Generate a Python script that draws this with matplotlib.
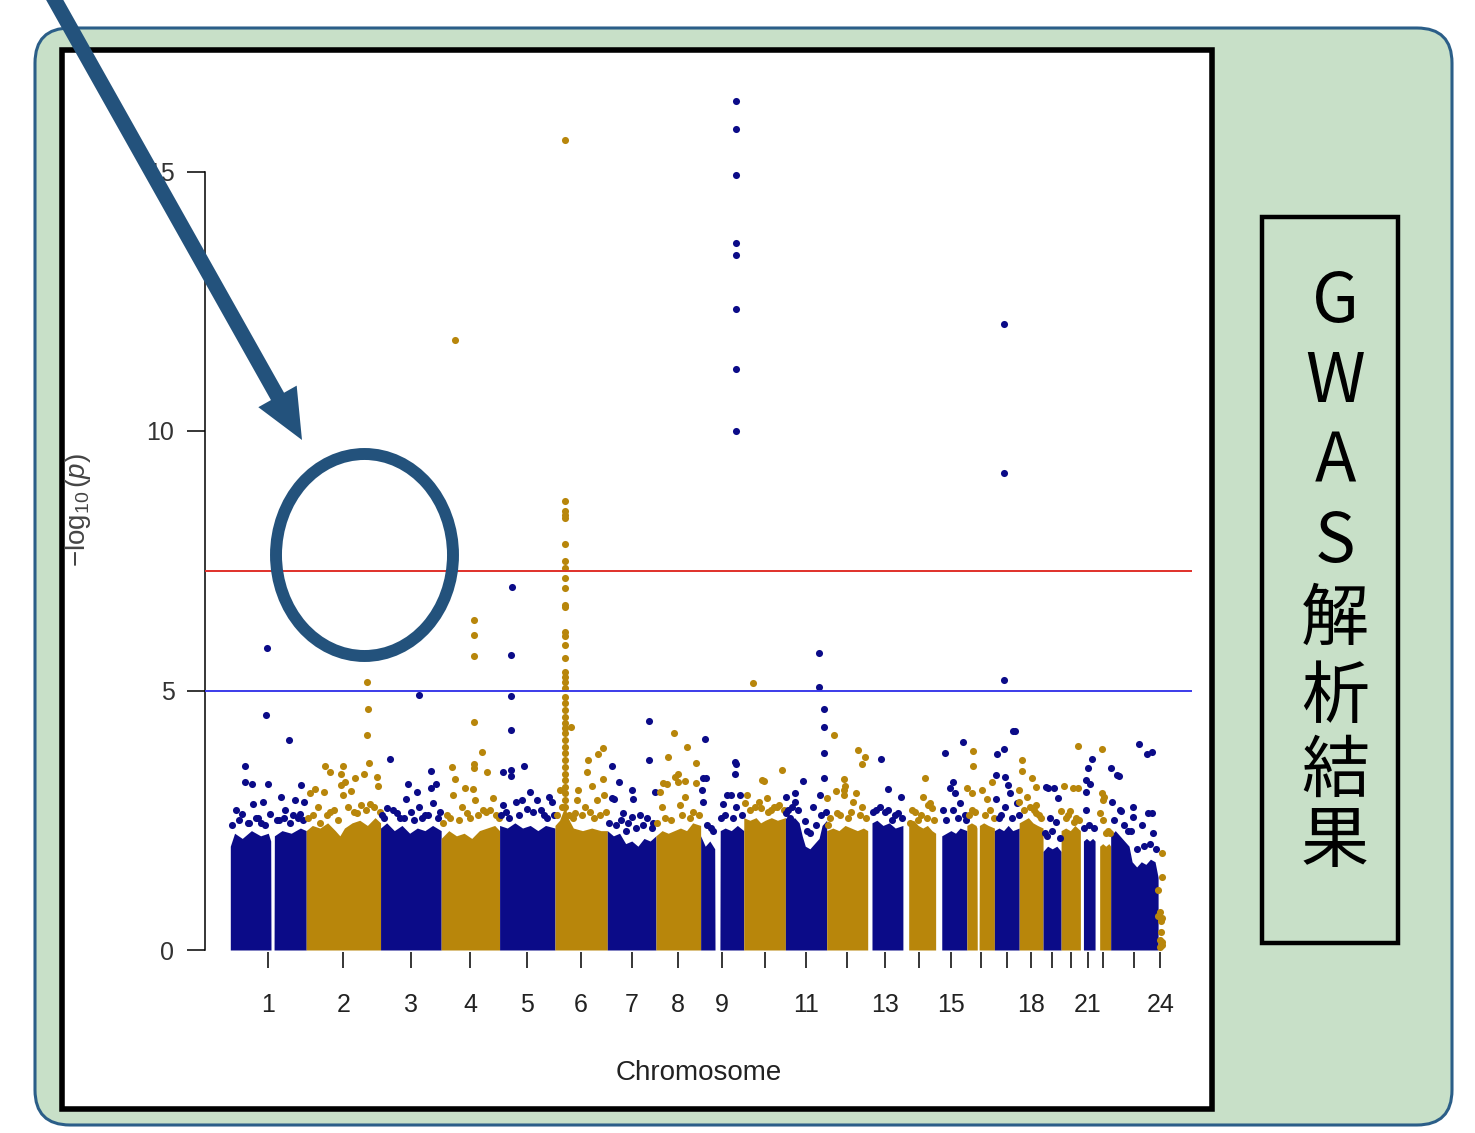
import numpy as np
import matplotlib
matplotlib.use("Agg")
import matplotlib.pyplot as plt
from matplotlib import patches

# 字體設定
plt.rcParams['font.family'] = ['Liberation Sans', 'DejaVu Sans']
plt.rcParams['mathtext.fontset'] = 'custom'
plt.rcParams['mathtext.rm'] = 'Liberation Sans'
plt.rcParams['mathtext.it'] = 'Liberation Sans:italic'

######### 資料 (Mb, -log10 p)
chrom_len = [249, 243, 198, 191, 181, 171, 159, 146, 141, 136, 135, 134,
             115, 107, 102, 90, 81, 78, 59, 63, 48, 51, 155, 15]
chrom_labels = ['1', '2', '3', '4', '5', '6', '7', '8', '9', '', '11', '',
                '13', '', '15', '', '', '18', '', '', '21', '', '', '24']

# 密集點雲的上緣 (位置, 高度)，高度 0 = 沒有 SNP 的區段
mass_pos = [
    [1, 15, 40, 70, 100, 125, 133, 134, 144, 145, 170, 200, 230, 249],
    [0, 20, 45, 70, 95, 110, 125, 150, 175, 200, 225, 243],
    [0, 20, 45, 70, 95, 120, 145, 170, 198],
    [0, 25, 50, 75, 100, 125, 150, 175, 191],
    [0, 25, 50, 75, 100, 125, 150, 181],
    [0, 15, 28, 33, 38, 60, 90, 120, 150, 171],
    [0, 20, 40, 60, 80, 100, 120, 140, 159],
    [0, 20, 40, 60, 80, 100, 120, 146],
    [0, 15, 30, 46, 47, 63, 64, 80, 100, 120, 141],
    [0, 20, 40, 55, 70, 90, 110, 136],
    [0, 15, 30, 45, 55, 65, 80, 95, 110, 120, 135],
    [0, 20, 40, 60, 80, 100, 120, 134],
    [14, 30, 50, 70, 90, 115],
    [19, 35, 50, 65, 80, 95, 107],
    [20, 35, 50, 65, 80, 102],
    [0, 15, 30, 33, 34, 40, 41, 55, 70, 90],
    [0, 15, 30, 45, 60, 81],
    [0, 15, 30, 45, 60, 78],
    [0, 15, 30, 45, 59],
    [0, 15, 30, 45, 63],
    [10, 20, 30, 40, 48],
    [15, 25, 35, 45, 51],
    [0, 15, 30, 45, 60, 70, 85, 100, 115, 130, 145, 155],
    [],
]
mass_top = [
    [2.0, 2.25, 2.15, 2.3, 2.2, 2.25, 2.1, 0, 0, 2.2, 2.3, 2.25, 2.35, 2.3],
    [2.3, 2.4, 2.35, 2.45, 2.3, 2.2, 2.35, 2.45, 2.5, 2.4, 2.55, 2.45],
    [2.35, 2.45, 2.3, 2.4, 2.25, 2.35, 2.3, 2.4, 2.3],
    [2.15, 2.3, 2.2, 2.25, 2.15, 2.3, 2.35, 2.4, 2.3],
    [2.4, 2.35, 2.45, 2.35, 2.4, 2.3, 2.4, 2.35],
    [2.4, 2.5, 2.7, 3.0, 2.6, 2.35, 2.3, 2.35, 2.3, 2.3],
    [2.3, 2.2, 2.25, 2.05, 2.1, 2.0, 2.15, 2.1, 2.2],
    [2.2, 2.3, 2.25, 2.3, 2.35, 2.3, 2.45, 2.4],
    [2.2, 2.0, 2.1, 1.95, 0, 0, 2.3, 2.35, 2.3, 2.4, 2.3],
    [2.55, 2.5, 2.55, 2.45, 2.5, 2.55, 2.5, 2.55],
    [2.55, 2.5, 2.55, 2.45, 2.2, 2.0, 1.95, 2.05, 2.15, 2.4, 2.5],
    [2.3, 2.35, 2.3, 2.4, 2.35, 2.3, 2.35, 2.3],
    [2.45, 2.5, 2.4, 2.45, 2.35, 2.4],
    [2.45, 2.5, 2.4, 2.35, 2.4, 2.3, 2.25],
    [2.2, 2.25, 2.3, 2.25, 2.35, 2.3],
    [2.4, 2.45, 2.4, 2.35, 0, 0, 2.4, 2.45, 2.4, 2.35],
    [2.3, 2.35, 2.3, 2.4, 2.3, 2.35],
    [2.45, 2.5, 2.55, 2.45, 2.4, 2.35],
    [1.9, 2.0, 1.95, 2.0, 1.9],
    [2.3, 2.35, 2.3, 2.4, 2.3],
    [2.1, 2.15, 2.1, 2.15, 2.1],
    [2.0, 2.05, 2.0, 2.05, 2.0],
    [2.2, 2.3, 2.2, 2.1, 2.0, 1.7, 1.6, 1.7, 1.65, 1.75, 1.7, 1.4],
    [],
]

# 點雲上方個別的 SNP
hit_pos = [
    [121, 118, 193, 49, 49, 72, 124, 232, 167, 75, 108, 213, 39, 131, 229, 20, 92, 180, 242, 59, 160, 205,
     8, 30, 62, 85, 100, 115, 152, 175, 195, 222, 240],
    [199, 202, 199, 205, 61, 120, 78, 114, 189, 232, 160, 127, 29, 58, 114, 147, 235, 12, 120, 78, 45, 166, 209,
     5, 22, 38, 68, 90, 105, 138, 155, 180, 195, 220, 240],
    [126, 31, 165, 90, 83, 119, 182, 165, 21, 126, 172, 54, 63, 145,
     5, 12, 40, 75, 100, 110, 135, 155, 188, 195],
    [45, 107, 107, 107, 107, 107, 107, 133, 150, 35, 45, 78, 104, 39, 111, 169, 84, 137,
     5, 18, 28, 58, 68, 95, 122, 145, 160, 180, 188],
    [41, 37, 37, 37, 80, 11, 37, 37, 99, 162, 73, 54, 122, 11, 90, 171,
     4, 22, 30, 62, 110, 135, 145, 155, 178],
    [33, 33, 33, 33, 33, 33, 33, 33, 33, 33, 33, 33, 33, 33, 33, 33, 33, 33, 33,
     33, 33, 33, 33, 33, 33, 34, 33, 33, 33, 33, 33, 33, 33, 33, 33, 33, 33, 33,
     52, 157, 141, 108, 105, 157, 121, 75, 16, 160, 137, 72, 98, 65,
     5, 24, 45, 58, 88, 115, 128, 148, 168],
    [136, 136, 15, 38, 81, 15, 84, 22, 155, 81, 129, 51, 108, 68,
     5, 30, 45, 60, 95, 118, 145, 150],
    [59, 101, 39, 131, 72, 62, 23, 72, 95, 131, 36, 13, 95, 78, 20,
     4, 30, 48, 85, 110, 120, 140],
    [115, 115, 115, 115, 115, 115, 115, 115,
     14, 112, 115, 112, 7, 17, 4, 86, 99, 128, 73, 7, 115,
     22, 35, 42, 68, 80, 105, 135],
    [30, 125, 60, 66, 10, 76, 50, 4, 56, 79, 100, 115,
     20, 38, 88, 108, 130],
    [110, 110, 126, 126, 126, 126, 58, 113, 2, 31, 31, 90, 2, 15, 64,
     8, 22, 42, 72, 80, 100, 118, 132],
    [24, 102, 125, 115, 57, 30, 57, 57, 96, 1, 86, 115, 34, 4, 60,
     12, 45, 70, 80, 108, 130],
    [43, 66, 109, 40, 66, 99, 79,
     18, 28, 55, 88, 112],
    [72, 66, 89, 82, 95, 49, 23,
     30, 40, 58, 78, 102],
    [31, 90, 57, 47, 63, 24, 57, 80,
     35, 72, 95, 99],
    [20, 20, 1, 17, 49, 66, 82, 17,
     8, 28, 58, 75, 88],
    [31, 31, 31, 61, 67, 31, 8, 5, 35, 44, 51, 5, 35, 74,
     15, 22, 58, 79],
    [9, 9, 42, 55, 1, 26, 1, 55, 55,
     15, 35, 48, 65, 72],
    [16, 36, 49, 23, 6, 42, 9,
     12, 30, 55],
    [9, 39, 55, 1, 29, 42, 55,
     15, 22, 48, 60],
    [38, 26, 17, 32, 17, 20,
     12, 28, 44],
    [23, 26, 23, 16, 29, 26,
     35, 42, 48],
    [1, 21, 27, 4, 34, 93, 119, 135, 73, 73, 122, 135, 138, 31, 102, 57,
     10, 45, 65, 85, 110, 128, 148],
    [12, 12, 0, 6, 1, 9, 12, 6, 12, 6, 14, 10],
]
hit_logp = [
    [5.82, 4.53, 4.05, 3.55, 3.24, 3.2, 3.2, 3.18, 2.95, 2.81, 2.85, 2.89, 2.63, 2.62, 2.63, 2.7, 2.55, 2.7, 2.85, 2.45, 2.5, 2.6,
     2.4, 2.5, 2.45, 2.55, 2.45, 2.4, 2.5, 2.55, 2.45, 2.55, 2.5],
    [5.16, 4.64, 4.14, 3.6, 3.55, 3.55, 3.43, 3.39, 3.39, 3.33, 3.31, 3.24, 3.1, 3.04, 3.18, 3.06, 3.16, 3.02, 2.99, 2.66, 2.45, 2.64, 2.81,
     2.55, 2.6, 2.75, 2.6, 2.7, 2.5, 2.75, 2.65, 2.8, 2.7, 2.75, 2.65],
    [4.91, 3.68, 3.45, 3.2, 2.91, 3.04, 3.2, 3.12, 2.73, 2.76, 2.83, 2.64, 2.55, 2.6,
     2.6, 2.55, 2.7, 2.55, 2.65, 2.5, 2.55, 2.6, 2.55, 2.65],
    [11.75, 6.36, 6.07, 5.66, 4.39, 3.58, 3.5, 3.81, 3.43, 3.53, 3.29, 3.12, 3.1, 2.99, 2.89, 2.93, 2.64, 2.7,
     2.45, 2.6, 2.55, 2.5, 2.75, 2.55, 2.6, 2.65, 2.7, 2.6, 2.55],
    [6.99, 5.68, 4.9, 4.24, 3.55, 3.43, 3.47, 3.35, 3.04, 2.95, 2.89, 2.85, 2.89, 2.79, 2.72, 2.85,
     2.6, 2.65, 2.55, 2.6, 2.65, 2.7, 2.6, 2.55, 2.6],
    [15.6, 8.66, 8.46, 8.38, 8.32, 7.82, 7.5, 7.36, 7.17, 6.97, 6.65, 6.6, 6.13, 6.05, 5.88, 5.63, 5.36, 5.26, 5.16,
     5.05, 4.88, 4.75, 4.62, 4.49, 4.37, 4.28, 4.18, 4.05, 3.92, 3.79, 3.66, 3.53, 3.4, 3.28, 3.15, 3.02, 2.89, 2.76,
     4.3, 3.89, 3.78, 3.66, 3.43, 3.29, 3.16, 3.08, 3.08, 2.99, 2.89, 2.89, 2.76, 2.64,
     2.6, 2.75, 2.6, 2.55, 2.6, 2.65, 2.55, 2.6, 2.65],
    [4.41, 3.66, 3.55, 3.24, 3.08, 2.93, 2.91, 2.9, 3.04, 2.56, 2.54, 2.64, 2.6, 2.45,
     2.45, 2.4, 2.5, 2.3, 2.35, 2.4, 2.35, 2.45],
    [4.18, 3.91, 3.72, 3.6, 3.39, 3.33, 3.22, 3.24, 3.26, 3.22, 3.2, 3.04, 2.95, 2.79, 2.76,
     2.45, 2.55, 2.5, 2.6, 2.55, 2.65, 2.6],
    [16.36, 15.82, 14.93, 13.62, 13.39, 12.35, 11.19, 10.0,
     4.07, 3.62, 3.58, 3.39, 3.31, 3.31, 3.08, 2.99, 2.99, 2.99, 2.81, 2.85, 2.76,
     2.4, 2.35, 2.3, 2.55, 2.6, 2.55, 2.6],
    [5.15, 3.47, 3.28, 3.26, 2.99, 2.93, 2.85, 2.83, 2.73, 2.66, 2.75, 2.8,
     2.7, 2.75, 2.7, 2.75, 2.7],
    [5.72, 5.07, 4.64, 4.3, 3.8, 3.31, 3.26, 2.99, 2.95, 3.02, 2.85, 2.76, 2.64, 2.54, 2.49,
     2.7, 2.75, 2.7, 2.3, 2.25, 2.4, 2.6, 2.65],
    [4.14, 3.85, 3.72, 3.58, 3.29, 3.06, 3.08, 2.99, 3.02, 2.93, 2.85, 2.76, 2.64, 2.41, 3.16,
     2.55, 2.6, 2.55, 2.65, 2.6, 2.55],
    [3.68, 3.1, 2.95, 2.76, 2.7, 2.64, 2.5,
     2.65, 2.7, 2.65, 2.6, 2.55],
    [3.31, 2.95, 2.83, 2.8, 2.73, 2.5, 2.45,
     2.7, 2.65, 2.6, 2.55, 2.5],
    [3.8, 4.01, 3.24, 3.12, 3.02, 2.7, 2.7, 2.83,
     2.5, 2.55, 2.6, 2.5],
    [3.83, 3.55, 3.12, 3.02, 3.08, 2.91, 3.24, 2.7,
     2.6, 2.65, 2.6, 2.7, 2.55],
    [12.06, 9.19, 5.2, 4.22, 4.22, 3.87, 3.78, 3.37, 3.33, 3.18, 3.02, 2.91, 2.76, 2.83,
     2.55, 2.6, 2.55, 2.6],
    [3.66, 3.45, 3.31, 3.14, 3.08, 2.95, 2.85, 2.79, 2.64,
     2.7, 2.75, 2.7, 2.6, 2.55],
    [3.12, 3.12, 2.93, 2.54, 2.25, 2.47, 3.14,
     2.2, 2.3, 2.15],
    [3.16, 3.12, 3.12, 2.68, 2.68, 2.47, 3.93,
     2.55, 2.6, 2.55, 2.5],
    [3.68, 3.5, 3.28, 3.2, 3.04, 2.7,
     2.35, 2.4, 2.35],
    [3.87, 2.89, 3.02, 2.64, 2.95, 2.5,
     2.25, 2.3, 2.25],
    [3.5, 3.37, 3.35, 2.85, 2.68, 3.97, 3.78, 3.81, 2.76, 2.56, 2.64, 2.64, 2.25, 2.7, 2.4, 2.3,
     2.5, 2.4, 2.3, 1.95, 2.0, 2.05, 1.95],
    [1.87, 1.41, 1.16, 0.73, 0.65, 0.55, 0.62, 0.2, 0.1, 0.05, 0.15, 0.35],
]

suggestive = 5.0
genome_wide = 7.3
side_title = ['G', 'W', 'A', 'S', '解', '析', '結', '果']

NAVY = '#0b0b88'
GOLD = '#b8860b'
DEEP = '#23527c'

W, H = 1475, 1133
fig = plt.figure(figsize=(W / 100, H / 100), dpi=100)

# 背景：綠色圓角框 + 白色圖框 + 右側標題框
bg = fig.add_axes([0, 0, 1, 1], zorder=0)
bg.set_xlim(0, W)
bg.set_ylim(H, 0)
bg.axis('off')
bg.add_patch(patches.FancyBboxPatch((35, 28), 1417, 1097,
                                    boxstyle='round,pad=0,rounding_size=35',
                                    fc='#c8e0c8', ec='#2b5e88', lw=2.2))
bg.add_patch(patches.Rectangle((62, 50), 1150, 1059, fc='white', ec='black', lw=4))
bg.add_patch(patches.Rectangle((1262, 217), 136, 726, fc='none', ec='black', lw=3.2))

# Manhattan plot
px0, px_per_mb = 230, 0.306
ax = fig.add_axes([205 / W, 1 - 952 / H, (1192 - 205) / W, (952 - 80) / H], zorder=1)
ax.patch.set_alpha(0)
ax.set_xlim((205 - px0) / px_per_mb, (1192 - px0) / px_per_mb)
ax.set_ylim(-2 / 51.9, 870 / 51.9)

offsets = np.concatenate([[0], np.cumsum(chrom_len)[:-1]])
for i in range(len(chrom_len)):
    c = NAVY if i % 2 == 0 else GOLD
    if mass_pos[i]:
        ax.fill_between(offsets[i] + np.array(mass_pos[i]), 0, mass_top[i],
                        color=c, lw=0, zorder=2)
    ax.scatter(offsets[i] + np.array(hit_pos[i]), hit_logp[i], s=26, color=c,
               lw=0, zorder=3, clip_on=False)

ax.axhline(genome_wide, color='#e0302a', lw=1.4, zorder=4)
ax.axhline(suggestive, color='#3b3bea', lw=1.4, zorder=4)

for s in ['top', 'right', 'bottom']:
    ax.spines[s].set_visible(False)
ax.spines['left'].set_bounds(0, 15)
ax.spines['left'].set_linewidth(1.1)

ax.set_yticks([0, 5, 10, 15])
ax.tick_params(axis='y', length=13, width=1.1, pad=9, labelsize=18, labelcolor='#333333')
ax.set_xticks(offsets + np.array(chrom_len) / 2)
ax.set_xticklabels(chrom_labels)
ax.tick_params(axis='x', length=11.5, width=1.1, pad=18, labelsize=18, labelcolor='#222222')

ax.set_ylabel(r'$-\log_{10}(p)$', fontsize=20, color='#444444')
ax.yaxis.set_label_coords(-0.113, 0.507)
ax.set_xlabel('Chromosome', fontsize=20, color='#222222')
ax.xaxis.set_label_coords(0.5, -0.124)

# 箭頭與圓圈
fg = fig.add_axes([0, 0, 1, 1], zorder=5)
fg.set_xlim(0, W)
fg.set_ylim(H, 0)
fg.axis('off')
fg.add_patch(patches.FancyArrow(48, -12, 254, 452, width=15, head_width=44, head_length=50,
                                length_includes_head=True, color=DEEP, lw=0))
fg.add_patch(patches.Ellipse((364.5, 555), 177, 202, fill=False, ec=DEEP, lw=8.6))

# 右側直書標題
ys = [303, 383, 463, 543, 621, 699, 773, 843]
for ch, y in zip(side_title, ys):
    fg.text(1335, y, ch, ha='center', va='center', fontsize=49, color='black',
            family=['Noto Sans CJK JP', 'DejaVu Sans'])

plt.savefig('out.png', dpi=100)
